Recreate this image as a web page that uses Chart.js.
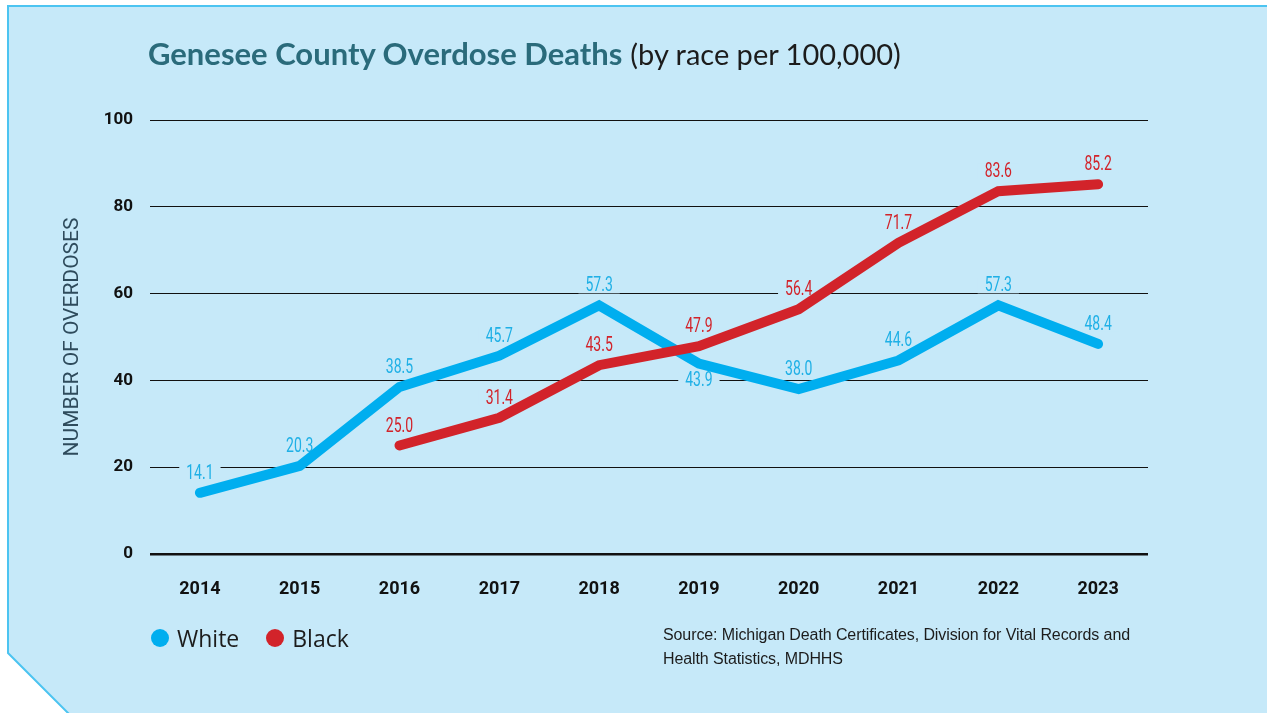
<!DOCTYPE html>
<html>
<head>
<meta charset="utf-8">
<script src="https://cdn.jsdelivr.net/npm/chart.js@4"></script>
<style>
  html, body { margin: 0; padding: 0; background: #fff; }
  #wrap { position: relative; width: 1267px; height: 713px; overflow: hidden; }
  #panel { position: absolute; left: 0; top: 0; }
  #myChart { position: absolute; left: 0; top: 0; }
  .title { position: absolute; left: 148px; top: 34px; font-family: "Lato", sans-serif; font-size: 31px; color: #1c1c1c; white-space: nowrap; }
  .title b { color: #2a6b7b; font-weight: 700; }
  .title span { font-size: 29px; }
  .legend { position: absolute; left: 151px; top: 622px; font-family: "Open Sans", sans-serif; font-size: 23px; color: #1c1c1c; display: flex; }
  .legend span { display: flex; align-items: center; margin-right: 27px; }
  .legend i { display: inline-block; width: 18px; height: 18px; border-radius: 50%; margin-right: 8px; }
  .source { position: absolute; left: 663px; top: 623px; font-family: "Liberation Sans", Arial, sans-serif; font-size: 16px; line-height: 24px; color: #1c1c1c; letter-spacing: -0.1px; }
</style>
</head>
<body>
<div id="wrap">
  <svg id="panel" width="1267" height="713">
    <polygon points="8,6 1275,6 1275,725 80,725 8,653" fill="#c6e9f9" stroke="#4cc4f1" stroke-width="2"/>
  </svg>
  <canvas id="myChart" width="1267" height="713"></canvas>
  <div class="title"><b>Genesee County Overdose Deaths</b> <span>(by race per 100,000)</span></div>
  <div class="legend" id="legend"></div>
  <div class="source">Source: Michigan Death Certificates, Division for Vital Records and<br>Health Statistics, MDHHS</div>
</div>
<script>
const years = ['2014', '2015', '2016', '2017', '2018', '2019', '2020', '2021', '2022', '2023'];
const whiteRate = [14.1, 20.3, 38.5, 45.7, 57.3, 43.9, 38.0, 44.6, 57.3, 48.4];
const blackRate = [null, null, 25.0, 31.4, 43.5, 47.9, 56.4, 71.7, 83.6, 85.2];
const seriesNames = ['White', 'Black'];
const seriesColors = ['#00aeef', '#d2232a'];
const labelColors = ['#1fb0e6', '#d2232a'];

const panelBg = '#c6e9f9';

// value labels sit on a patch of panel colour, so gridlines break around them
// no condensed font installed, so squeeze Roboto sideways
const valueLabels = {
    id: 'valueLabels',
    beforeDatasetsDraw(chart) {
        const ctx = chart.ctx;
        const squeeze = 0.7;
        ctx.save();
        ctx.font = '20px Roboto, sans-serif';
        ctx.textAlign = 'center';
        ctx.textBaseline = 'middle';
        chart.data.datasets.forEach((ds, i) => {
            const meta = chart.getDatasetMeta(i);
            meta.data.forEach((pt, j) => {
                const v = ds.data[j];
                if (v === null) return;
                const below = i === 0 && years[j] === '2019';
                const txt = v.toFixed(1);
                const y = below ? pt.y + 17 : pt.y - 20;
                const w = ctx.measureText(txt).width * squeeze;
                ctx.fillStyle = panelBg;
                ctx.fillRect(pt.x - w / 2 - 7, y - 8, w + 14, 16);
                ctx.save();
                ctx.translate(pt.x, y + 1);
                ctx.scale(squeeze, 1);
                ctx.fillStyle = labelColors[i];
                ctx.fillText(txt, 0, 0);
                ctx.restore();
            });
        });
        ctx.restore();
    }
};

const ctx = document.getElementById('myChart');

new Chart(ctx, {
    type: 'line',
    data: {
        labels: years,
        datasets: [{
            label: seriesNames[0],
            data: whiteRate,
            borderColor: seriesColors[0],
            borderWidth: 10,
            borderCapStyle: 'round',
            borderJoinStyle: 'miter',
            pointRadius: 0,
            tension: 0,
            order: 2
        }, {
            label: seriesNames[1],
            data: blackRate,
            borderColor: seriesColors[1],
            borderWidth: 10,
            borderCapStyle: 'round',
            borderJoinStyle: 'miter',
            pointRadius: 0,
            tension: 0,
            order: 1
        }]
    },
    options: {
        responsive: false,
        animation: false,
        layout: { padding: { left: 0, top: 120, right: 119, bottom: 109 } },
        plugins: {
            legend: { display: false },
            tooltip: { enabled: false }
        },
        scales: {
            x: {
                offset: true,
                grid: { display: false },
                border: { display: false },
                ticks: {
                    color: '#111',
                    padding: 17,
                    font: { family: 'Roboto, sans-serif', size: 18, weight: 'bold' }
                },
                afterFit(scale) { scale.height = 50; }
            },
            y: {
                min: 0,
                max: 100,
                ticks: {
                    stepSize: 20,
                    color: '#111',
                    padding: 17,
                    font: { family: 'Roboto, sans-serif', size: 17, weight: 'bold' }
                },
                grid: {
                    drawTicks: false,
                    color: '#111',
                    lineWidth: c => c.tick && c.tick.value === 0 ? 2.5 : 1
                },
                border: { display: false },
                title: {
                    display: true,
                    text: 'NUMBER OF OVERDOSES',
                    color: '#2e4b5c',
                    font: { family: 'Roboto, sans-serif', size: 21 },
                    padding: { top: 60, bottom: 0 }
                },
                afterFit(scale) { scale.width = 150; }
            }
        }
    },
    plugins: [valueLabels]
});

const legendEl = document.getElementById('legend');
seriesNames.forEach((name, i) => {
    const item = document.createElement('span');
    item.innerHTML = '<i style="background:' + seriesColors[i] + '"></i>' + name;
    legendEl.appendChild(item);
});
</script>
</body>
</html>
